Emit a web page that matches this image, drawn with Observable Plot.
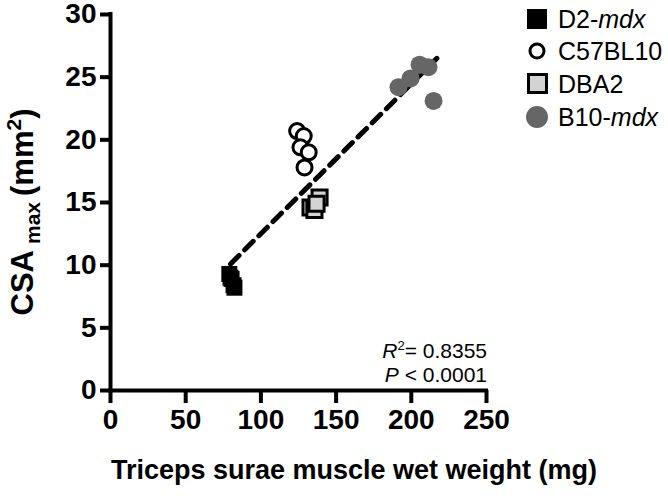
<!DOCTYPE html>
<html><head><meta charset="utf-8">
<script src="https://cdn.jsdelivr.net/npm/d3@7"></script>
<script src="https://cdn.jsdelivr.net/npm/@observablehq/plot@0.6"></script>
<style>
body{margin:0;background:#fff;}
#wrap{position:relative;width:668px;height:499px;font-family:"Liberation Sans",Arial,Helvetica,sans-serif;color:#000;}
#legend{position:absolute;left:524px;top:4px;}
.row{position:absolute;left:0;height:30px;width:150px;white-space:nowrap;}
.row svg{position:absolute;left:0;top:4px;}
.row span{position:absolute;left:34px;top:1px;font-size:25px;line-height:28px;}
</style></head><body><div id="wrap"></div>
<script>
// Groups (legend order)
const groups = ["D2-mdx", "C57BL10", "DBA2", "B10-mdx"];
// Triceps surae muscle wet weight (mg) and CSA max (mm²), per group
const d2Weight  = [79.0, 79.8, 80.5, 81.8, 82.4];
const d2CSA     = [9.3, 9.0, 8.9, 8.4, 8.2];
const c57Weight = [124.1, 128.5, 126.3, 131.8, 129.0];
const c57CSA    = [20.7, 20.3, 19.4, 19.0, 17.8];
const dbaWeight = [133.0, 139.0, 135.6, 137.0];
const dbaCSA    = [14.6, 15.4, 14.4, 14.9];
const b10Weight = [191.5, 199.5, 205.5, 211.4, 214.8];
const b10CSA    = [24.2, 24.9, 26.0, 25.8, 23.1];
// Regression line end points
const fitWeight = [79.8, 217];
const fitCSA    = [10.1, 26.5];
// Ticks
const xTicks = [0, 50, 100, 150, 200, 250];
const yTicks = [0, 5, 10, 15, 20, 25, 30];
const r2Text = "0.8355";
const pText = "0.0001";

const pts = (w, c, g) => w.map((x, i) => ({weight: x, csa: c[i], group: g}));
const d2 = pts(d2Weight, d2CSA, groups[0]);
const c57 = pts(c57Weight, c57CSA, groups[1]);
const dba = pts(dbaWeight, dbaCSA, groups[2]);
const b10 = pts(b10Weight, b10CSA, groups[3]);
const fit = fitWeight.map((x, i) => ({weight: x, csa: fitCSA[i]}));

const FONT = '"Liberation Sans", Arial, Helvetica, sans-serif';

const plot = Plot.plot({
  width: 668,
  height: 499,
  marginLeft: 110,
  marginRight: 182,
  marginTop: 14,
  marginBottom: 109,
  style: {fontFamily: FONT, overflow: "visible", background: "white", color: "black"},
  x: {domain: [0, 250]},
  y: {domain: [0, 30]},
  marks: [
    Plot.line(fit, {x: "weight", y: "csa", stroke: "black", strokeWidth: 5, strokeDasharray: "12,8"}),
    Plot.dot(b10, {x: "weight", y: "csa", r: 9, fill: "#666666", stroke: "none"}),
    Plot.dot(c57, {x: "weight", y: "csa", r: 7.5, fill: "white", stroke: "black", strokeWidth: 3}),
    Plot.dot(dba, {x: "weight", y: "csa", r: 8.5, symbol: "square", fill: "#d3d3d3", stroke: "black", strokeWidth: 3}),
    Plot.dot(d2, {x: "weight", y: "csa", r: 9, symbol: "square", fill: "black", stroke: "none"}),
    Plot.axisX({ticks: xTicks, tickSize: 13, tickPadding: 6, strokeWidth: 4, fontSize: 28, fontWeight: "bold", label: null}),
    Plot.axisY({ticks: yTicks, tickSize: 10, tickPadding: 4, strokeWidth: 4, fontSize: 28, fontWeight: "bold", label: null}),
    Plot.ruleX([0], {stroke: "black", strokeWidth: 4, strokeLinecap: "square"}),
    Plot.ruleY([0], {stroke: "black", strokeWidth: 4, strokeLinecap: "square"})
  ]
});

const wrap = document.getElementById("wrap");
wrap.appendChild(plot);

const svg = d3.select(plot);
const sx = plot.scale("x"), sy = plot.scale("y");

// Y axis title with subscript/superscript
const yt = svg.append("text")
  .attr("transform", `translate(33,${(sy.apply(0) + sy.apply(30)) / 2 + 10}) rotate(-90)`)
  .attr("text-anchor", "middle")
  .attr("font-family", FONT).attr("font-weight", "bold").attr("font-size", 31).attr("fill", "black");
yt.append("tspan").text("CSA");
yt.append("tspan").attr("font-size", 21).attr("dx", 6).attr("dy", 7).text("max");
yt.append("tspan").attr("dx", 6).attr("dy", -7).text("(mm");
yt.append("tspan").attr("font-size", 21).attr("dy", -12).text("2");
yt.append("tspan").attr("dy", 12).text(")");

// X axis title
svg.append("text")
  .attr("x", 354).attr("y", 479)
  .attr("text-anchor", "middle")
  .attr("font-family", FONT).attr("font-weight", "bold").attr("font-size", 27).attr("fill", "black")
  .text("Triceps surae muscle wet weight (mg)");

// Statistics annotation
const ax = sx.apply(250) + 1;
const a1 = svg.append("text").attr("x", ax).attr("y", sy.apply(0) - 32)
  .attr("text-anchor", "end").attr("font-family", FONT).attr("font-size", 21).attr("fill", "black");
a1.append("tspan").attr("font-style", "italic").text("R");
a1.append("tspan").attr("font-size", 13).attr("dy", -8).text("2");
a1.append("tspan").attr("dy", 8).text("= " + r2Text);
const a2 = svg.append("text").attr("x", ax).attr("y", sy.apply(0) - 8)
  .attr("text-anchor", "end").attr("font-family", FONT).attr("font-size", 21).attr("fill", "black");
a2.append("tspan").attr("font-style", "italic").text("P");
a2.append("tspan").text(" < " + pText);

// Legend
const legend = document.createElement("div");
legend.id = "legend";
const rowTops = [0, 32, 65, 98];
const markers = [
  '<rect x="3" y="1" width="20" height="20" fill="black"/>',
  '<circle cx="13" cy="11" r="7" fill="white" stroke="black" stroke-width="3"/>',
  '<rect x="4.5" y="1.5" width="18" height="18" fill="#d3d3d3" stroke="black" stroke-width="3"/>',
  '<circle cx="13" cy="11" r="11" fill="#666666"/>'
];
const labels = ['D2-<i>mdx</i>', 'C57BL10', 'DBA2', 'B10-<i>mdx</i>'];
groups.forEach((g, i) => {
  const row = document.createElement("div");
  row.className = "row";
  row.style.top = rowTops[i] + "px";
  row.innerHTML = `<svg width="26" height="24">${markers[i]}</svg><span>${labels[i]}</span>`;
  legend.appendChild(row);
});
wrap.appendChild(legend);
</script>
</body></html>
